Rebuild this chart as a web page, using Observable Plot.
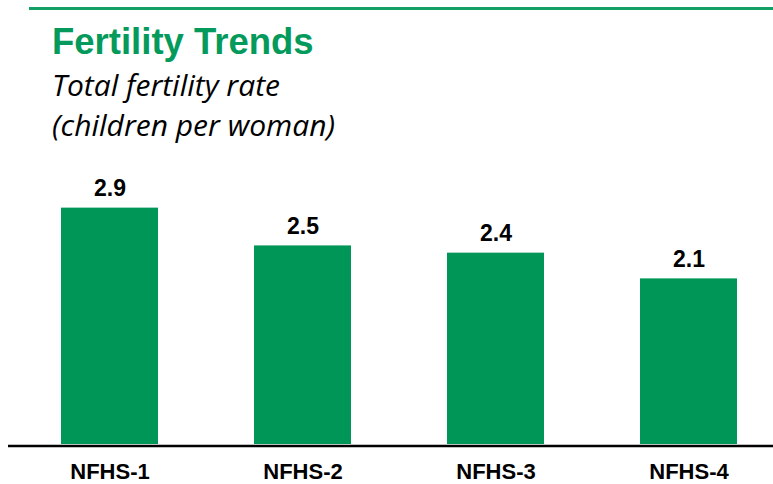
<!DOCTYPE html>
<html>
<head>
<meta charset="utf-8">
<script src="https://cdn.jsdelivr.net/npm/d3@7"></script>
<script src="https://cdn.jsdelivr.net/npm/@observablehq/plot@0.6"></script>
<style>
  html, body { margin: 0; padding: 0; background: #fff; width: 773px; height: 484px; overflow: hidden; }
  #wrap { position: relative; width: 773px; height: 484px; }
  #topline { position: absolute; left: 29px; right: 0; top: 7px; height: 3px; background: #13a067; }
  #title { position: absolute; left: 52px; top: 22px; font-family: "Liberation Sans", Arial, sans-serif; font-weight: bold; font-size: 36.5px; color: #049a5b; line-height: 40px; white-space: nowrap; }
  .sub { position: absolute; left: 52px; font-family: "Open Sans", Lato, sans-serif; font-style: italic; font-size: 30px; color: #000; line-height: 30px; white-space: nowrap; }
  #sub1 { top: 70px; }
  #sub2 { top: 110px; }
  #chart { position: absolute; left: 0; top: 0; }
</style>
</head>
<body>
<div id="wrap">
  <div id="topline"></div>
  <div id="title">Fertility Trends</div>
  <div id="sub1" class="sub">Total fertility rate</div>
  <div id="sub2" class="sub">(children per woman)</div>
  <div id="chart"></div>
</div>
<script>
const surveys = ["NFHS-1", "NFHS-2", "NFHS-3", "NFHS-4"];
const tfr = [2.94, 2.47, 2.38, 2.06];

const data = surveys.map((s, i) => ({survey: s, value: tfr[i]}));
const fmt = d3.format(".1f");

const chart = Plot.plot({
  width: 773,
  height: 484,
  marginTop: 0,
  marginBottom: 40,
  marginLeft: 8,
  marginRight: 0,
  style: {fontFamily: "'Liberation Sans', Arial, sans-serif", background: "transparent", overflow: "visible"},
  x: {domain: surveys, range: [11.5, 785.5], paddingInner: 0.5, paddingOuter: 0.25, label: null},
  y: {domain: [0, 3], range: [444, 444 - 3 * 80.4], axis: null},
  marks: [
    Plot.barY(data, {x: "survey", y: "value", fill: "#009658"}),
    Plot.text(data, {x: "survey", y: "value", text: d => fmt(d.value), lineAnchor: "bottom", dy: -12, fontSize: 23, fontWeight: "bold", fill: "#000"}),
    Plot.ruleY([0], {stroke: "#000", strokeWidth: 2.5, dy: 1.5}),
    Plot.axisX({tickSize: 0, tickPadding: 19, fontSize: 22, fontWeight: "bold", fill: "#000", label: null})
  ]
});
document.getElementById("chart").appendChild(chart);
</script>
</body>
</html>
